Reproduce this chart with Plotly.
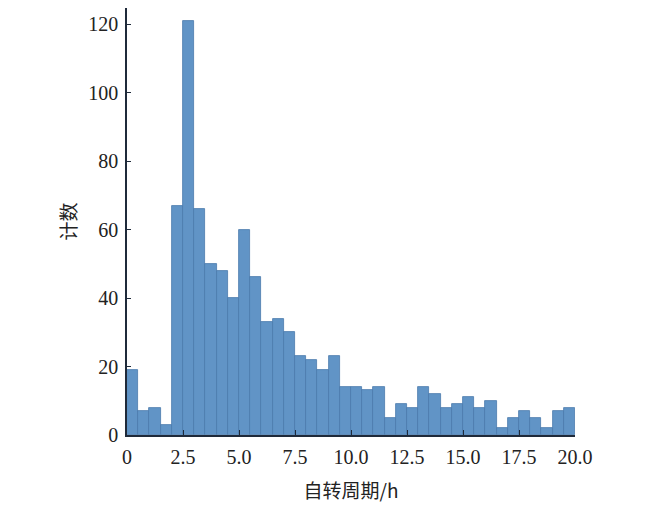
import plotly.graph_objects as go

# histogram bins (width 0.5 h) from 0 to 20
bin_left = [i * 0.5 for i in range(40)]
counts = [19, 7, 8, 3, 67, 121, 66, 50, 48, 40,
          60, 46, 33, 34, 30, 23, 22, 19, 23, 14,
          14, 13, 14, 5, 9, 8, 14, 12, 8, 9,
          11, 8, 10, 2, 5, 7, 5, 2, 7, 8]
x_ticks = [0, 2.5, 5.0, 7.5, 10.0, 12.5, 15.0, 17.5, 20.0]
x_tick_text = ["0", "2.5", "5.0", "7.5", "10.0", "12.5", "15.0", "17.5", "20.0"]
y_ticks = [0, 20, 40, 60, 80, 100, 120]

fig = go.Figure(go.Bar(
    x=[b + 0.25 for b in bin_left], y=counts, width=0.5,
    marker=dict(color="#6194c6", line=dict(color="#4a7aab", width=0.8)),
))

fig.update_layout(
    width=650, height=506,
    margin=dict(l=119, r=83, t=0, b=79),
    plot_bgcolor="white", paper_bgcolor="white",
    font=dict(family="Liberation Serif, Noto Sans CJK SC", size=20, color="#222"),
    showlegend=False,
    bargap=0,
)
fig.update_xaxes(
    range=[0, 20], tickvals=x_ticks, ticktext=x_tick_text,
    showline=True, linecolor="#1f2a3a", linewidth=1.5,
    ticks="inside", ticklen=5, tickcolor="#1f2a3a", ticklabelstandoff=3,
    showgrid=False, zeroline=False, automargin=False,
    title=dict(text="自转周期/h", font=dict(family="Noto Sans CJK SC, Liberation Serif", size=19), standoff=18),
)
fig.update_yaxes(
    range=[0, 124.7], tickvals=y_ticks,
    showline=True, linecolor="#1f2a3a", linewidth=1.5,
    ticks="inside", ticklen=4, tickcolor="#1f2a3a", ticklabelstandoff=3,
    showgrid=False, zeroline=False, automargin=False,
    title=dict(text="计数", font=dict(family="Noto Sans CJK SC, Liberation Serif", size=19), standoff=7),
)

fig.write_html("out.html")
